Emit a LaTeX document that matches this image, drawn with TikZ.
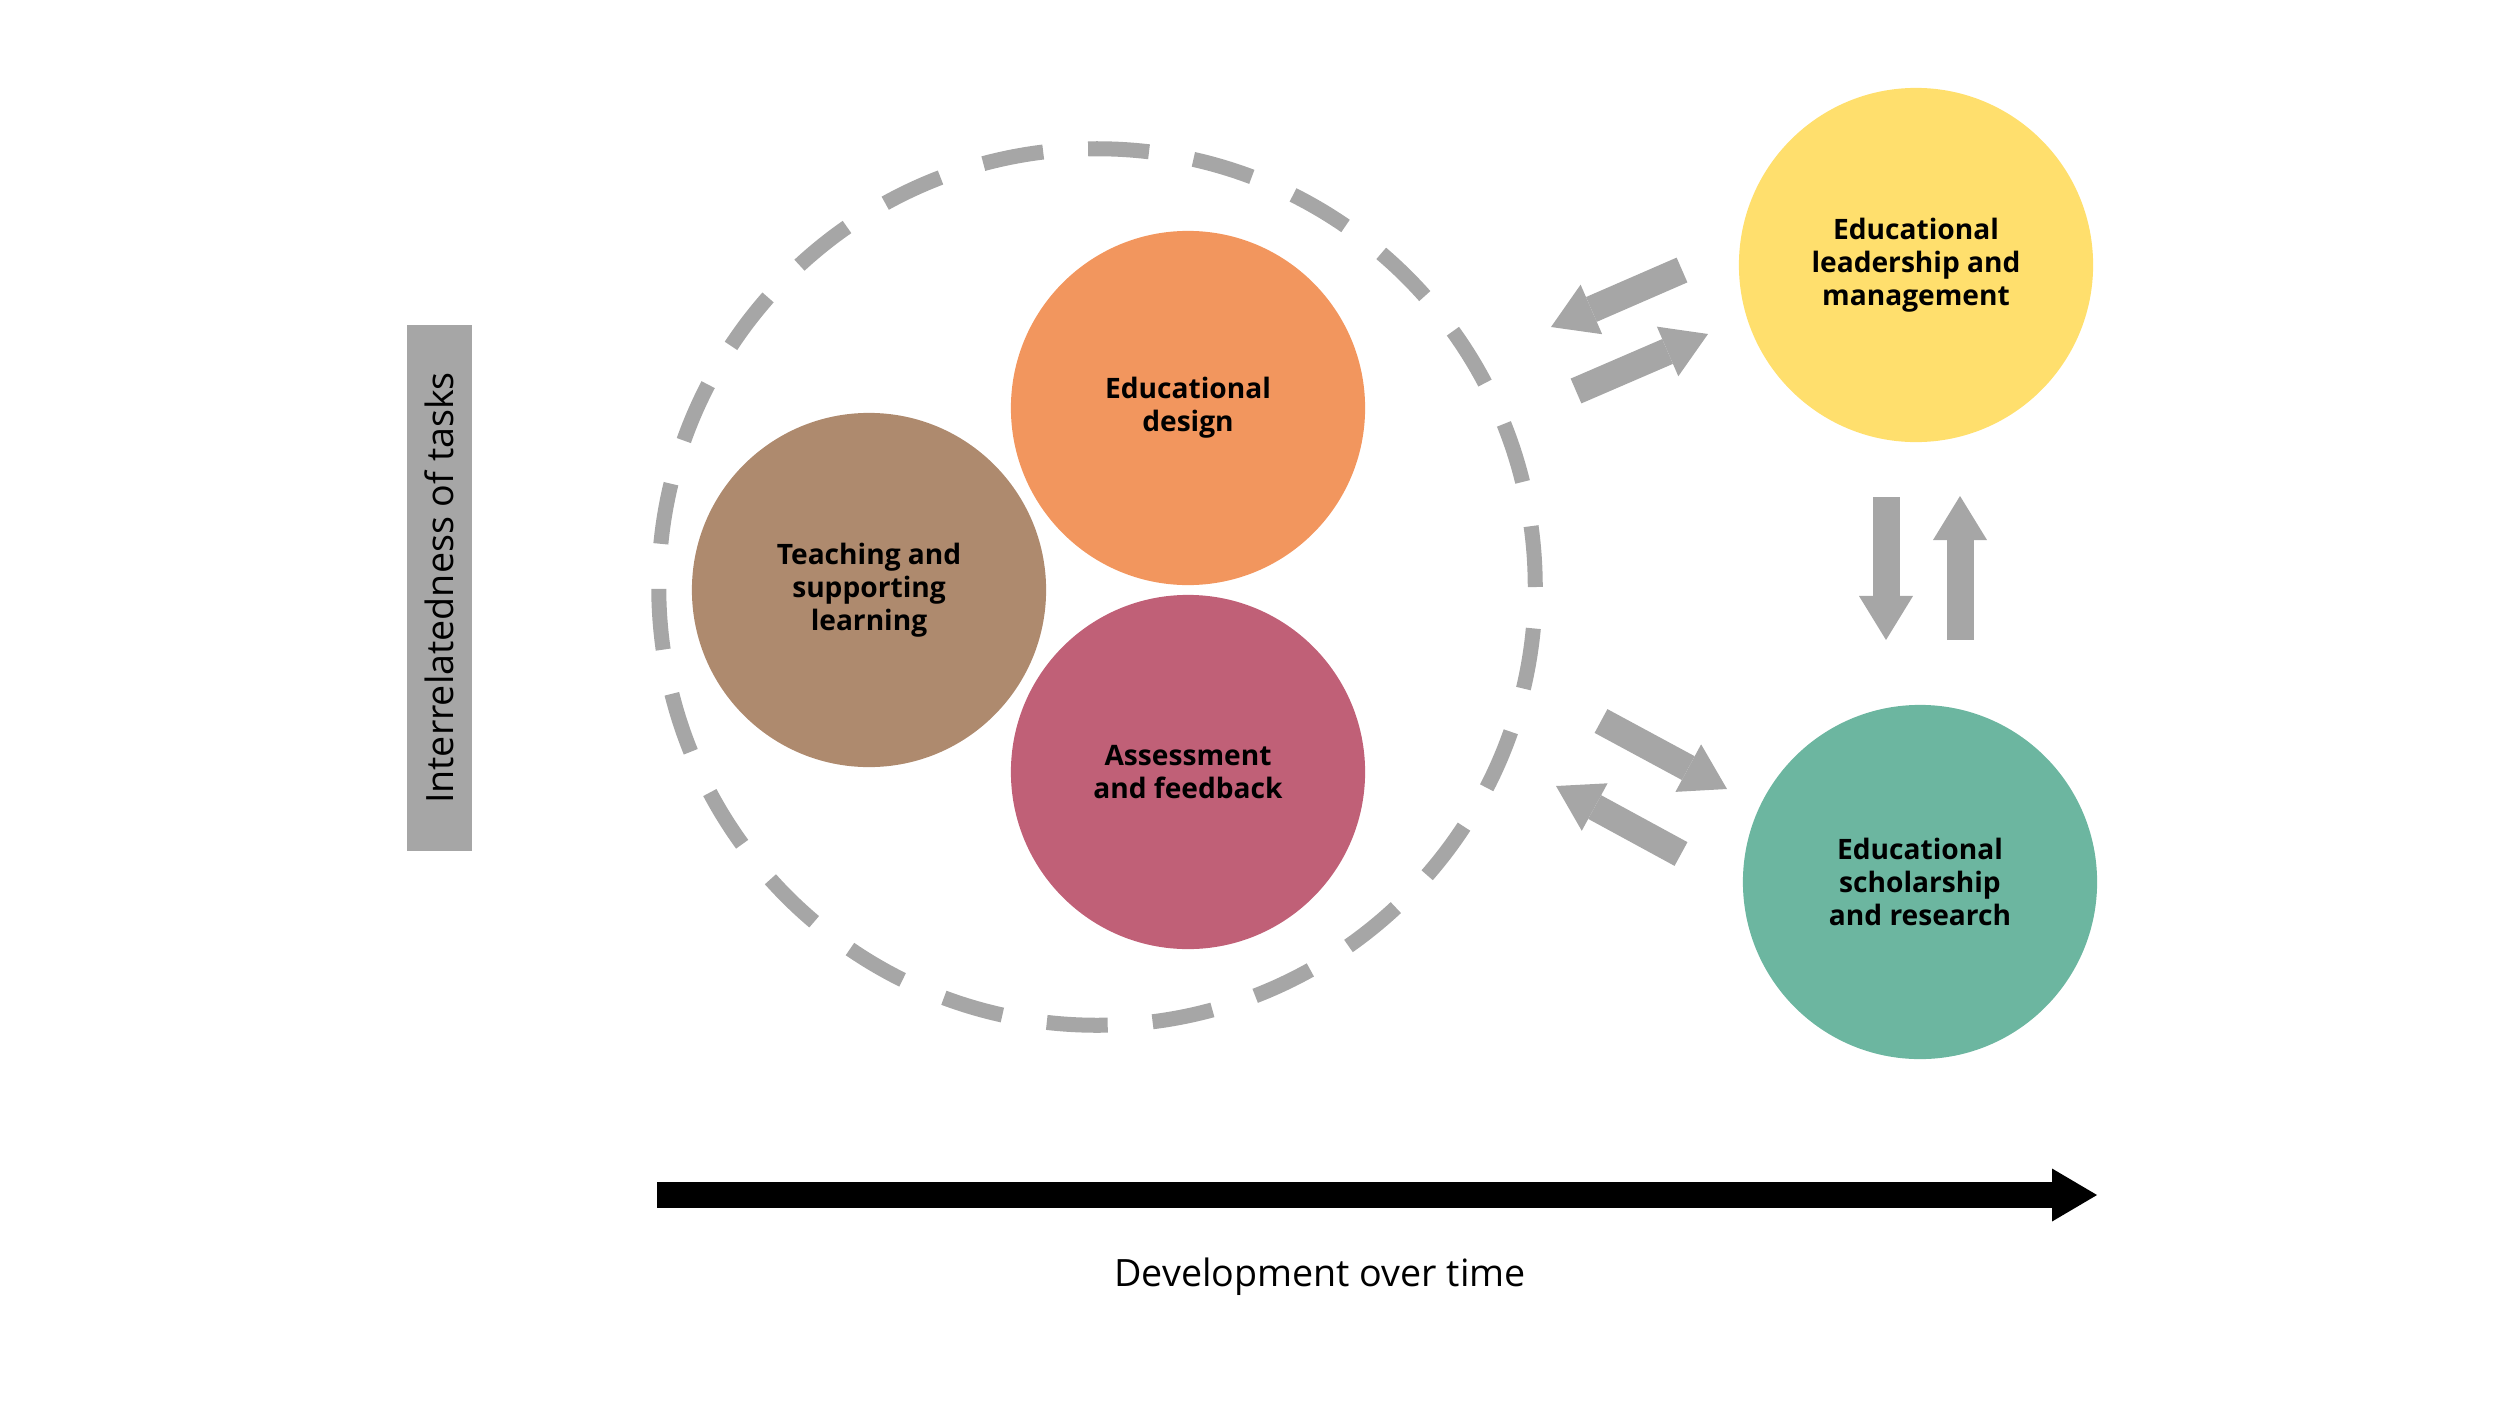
\documentclass[tikz,border=0pt]{standalone}
\usepackage{fontspec}
\setmainfont{Open Sans}
\usepackage{tikz}
\usetikzlibrary{positioning,arrows.meta}
\definecolor{designorange}{HTML}{F2965E}
\definecolor{teachbrown}{HTML}{AE8A6E}
\definecolor{assessred}{HTML}{C06077}
\definecolor{leadyellow}{HTML}{FFDF6D}
\definecolor{scholgreen}{HTML}{6CB6A0}
\definecolor{linkgray}{HTML}{A6A6A6}
\tikzset{task/.style = {circle,minimum size=3.54cm,inner sep=0pt,align=center,font=\fontsize{8}{9.3}\selectfont\bfseries},
         link/.style = {draw=linkgray,line width=0.27cm,-{Triangle[length=0.44cm,width=0.54cm,line width=0pt 0]}}}

\begin{document}
\begin{tikzpicture}[x=0.01cm,y=-0.01cm]
            \useasboundingbox (0,0) rectangle (2500,1406);
            % vertical axis
            \node[fill=linkgray,rotate=90,minimum width=5.26cm,minimum height=0.65cm,inner sep=0pt,font=\fontsize{10.7}{12}\selectfont] (axisbar) at (439.5,588) {Interrelatedness of tasks};
            % core tasks
            \node[circle,draw=linkgray,line width=0.15cm,dash pattern=on 0.61cm off 0.45cm,minimum size=8.76cm] (cluster) at (1097,587) {};
            \node[task,fill=designorange] (design)     at (1188,408) {Educational\\design};
            \node[task,fill=teachbrown]   (teaching)   at (869,590)  {Teaching and\\supporting\\learning};
            \node[task,fill=assessred]    (assessment) at (1188,772) {Assessment\\and feedback};
            % wider roles
            \node[task,fill=leadyellow]   (leadership)  at (1916,265) {Educational\\leadership and\\management};
            \node[task,fill=scholgreen]   (scholarship) at (1920,882) {Educational\\scholarship\\and research};
            \coordinate (leadout)  at (1682,270);
            \coordinate (leadin)   at (1708,334);
            \coordinate (coreup)   at (1551,327);
            \coordinate (coreupb)  at (1576,391);
            \coordinate (corelo)   at (1601,721);
            \coordinate (scholin)  at (1727,789);
            \coordinate (scholout) at (1681,854);
            \coordinate (corelob)  at (1556,786);
            \coordinate (downtop)  at (1886,497);
            \coordinate (downbot)  at (1886,640);
            \coordinate (upbot)    at (1960,640);
            \coordinate (uptop)    at (1960,496);
            \draw[link] (leadout) -- (coreup);
            \draw[link] (coreupb) -- (leadin);
            \draw[link] (corelo) -- (scholin);
            \draw[link] (scholout) -- (corelob);
            \draw[link] (downtop) -- (downbot);
            \draw[link] (upbot) -- (uptop);
            % time axis
            \coordinate (timestart) at (657,1195);
            \coordinate (timeend)   at (2097,1195);
            \draw[line width=0.26cm,-{Triangle[length=0.45cm,width=0.53cm,line width=0pt 0]}] (timestart) -- (timeend);
            \node[font=\fontsize{10.7}{12}\selectfont] (timelabel) at (1320,1277) {Development over time};
        \end{tikzpicture}
\end{document}
